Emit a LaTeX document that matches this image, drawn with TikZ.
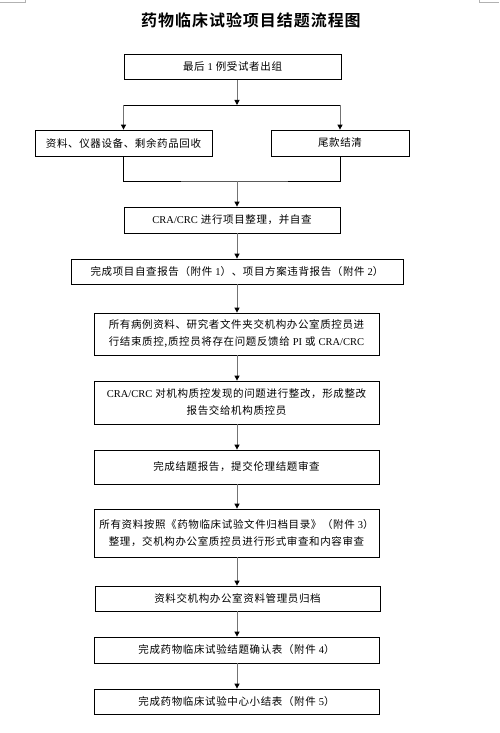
\documentclass[tikz,border=0pt]{standalone}
\usepackage{fontspec}
\setmainfont{Noto Sans CJK SC}[BoldFont={Noto Sans CJK SC Bold},LetterSpace=6]
\newfontfamily\lat{Liberation Serif}
\usetikzlibrary{arrows.meta,positioning,calc}

\tikzset{
  kasten/.style={draw,line width=0.8pt,minimum height=25pt,inner sep=2pt,align=center,
    font=\fontsize{10.5}{17}\selectfont},
  pfeil/.style={draw=black!55,line width=1pt,-{Triangle[width=5pt,length=5pt,color=black]}},
  linie/.style={draw=black,line width=0.8pt},
}

\begin{document}
\begin{tikzpicture}[x=1pt,y=-1pt]
%Koordinaten in Pixeln des Originals, y nach unten
  \pgfmathsetmacro{\achse}{237}
  \pgfmathsetmacro{\breit}{285}
\useasboundingbox (0,0) rectangle (499,733);
\draw[black!30] (0,2) -- (25,2) -- (25,0);
\draw[black!30] (479,0) -- (479,2) -- (499,2);
\node[font=\fontsize{16}{20}\selectfont\bfseries] (titel) at (251,20) {药物临床试验项目结题流程图};
%Kopf mit Verzweigung
\node[kasten,minimum width=217pt] (ausgang) at (232.5,67) {最后 {\lat 1} 例受试者出组};
\node[kasten,minimum width=177pt,minimum height=26pt] (ruecklauf) at (123.5,143) {资料、仪器设备、剩余药品回收};
\node[kasten,minimum width=138pt,minimum height=26pt] (abschluss) at (340,143) {尾款结清};
\node[kasten,minimum width=216pt,minimum height=26pt] (pruefen) at (232,220) {{\lat CRA/CRC} 进行项目整理，并自查};
%Hauptkette
\node[kasten,minimum width=332pt] (bericht) at (\achse,271.5) {完成项目自查报告（附件 {\lat 1}）、项目方案违背报告（附件 {\lat 2}）};
\node[kasten,minimum width=\breit pt,minimum height=42pt] (qc) at (236.5,334) {所有病例资料、研究者文件夹交机构办公室质控员进\\行结束质控,质控员将存在问题反馈给 {\lat PI} 或 {\lat CRA/CRC}};
\node[kasten,minimum width=\breit pt,minimum height=43pt] (korr) at (236.5,402.5) {{\lat CRA/CRC} 对机构质控发现的问题进行整改，形成整改\\报告交给机构质控员};
\node[kasten,minimum width=\breit pt,minimum height=34pt] (ethik) at (236.5,467) {完成结题报告，提交伦理结题审查};
\node[kasten,minimum width=\breit pt,minimum height=48pt] (archiv) at (236.5,533) {所有资料按照《药物临床试验文件归档目录》（附件 {\lat 3}）\\整理，交机构办公室质控员进行形式审查和内容审查};
\node[kasten,minimum width=\breit pt] (ablage) at (237.5,598.5) {资料交机构办公室资料管理员归档};
\node[kasten,minimum width=\breit pt,minimum height=26pt] (bestaet) at (236.5,650) {完成药物临床试验结题确认表（附件 {\lat 4}）};
\node[kasten,minimum width=\breit pt] (summary) at (236.5,701.5) {完成药物临床试验中心小结表（附件 {\lat 5}）};
%Verbindungen
\coordinate (gabel) at (\achse,105);
\coordinate (sammel) at (\achse,181);
\draw[pfeil] (ausgang.south -| gabel) -- (gabel);
\draw[linie] (ruecklauf.north |- gabel) -- (abschluss.north |- gabel);
\draw[pfeil] (ruecklauf.north |- gabel) -- (ruecklauf.north);
\draw[pfeil] (abschluss.north |- gabel) -- (abschluss.north);
\draw[linie] (ruecklauf.south) |- (sammel) -| (abschluss.south);
\draw[pfeil] (sammel) -- (pruefen.north -| sammel);
\foreach \von/\nach in {pruefen/bericht,bericht/qc,qc/korr,korr/ethik,ethik/archiv,archiv/ablage,ablage/bestaet,bestaet/summary}{
\draw[pfeil] (\von.south -| gabel) -- (\nach.north -| gabel);
}
\end{tikzpicture}
\end{document}
